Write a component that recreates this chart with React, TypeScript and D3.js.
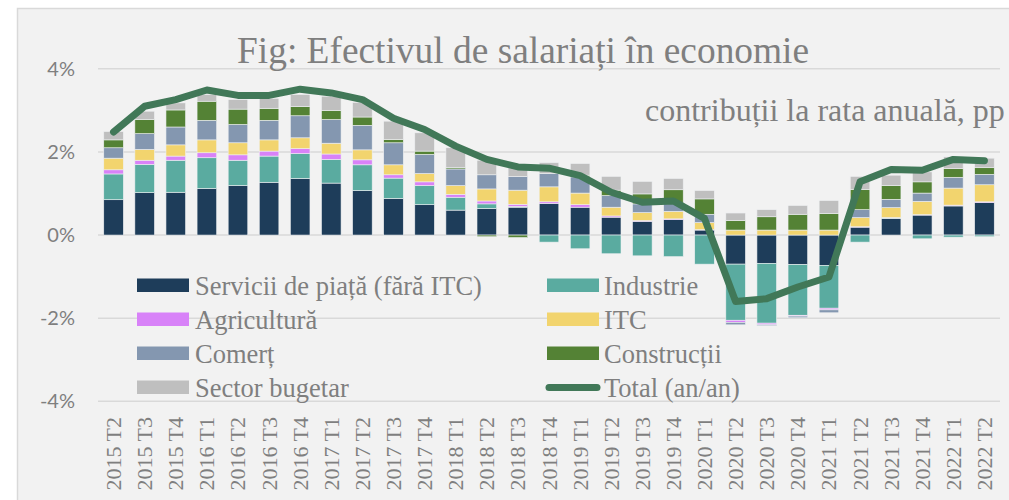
import React from "react";
import * as d3 from "d3";

const categories = [
  "2015 T2","2015 T3","2015 T4","2016 T1","2016 T2","2016 T3","2016 T4",
  "2017 T1","2017 T2","2017 T3","2017 T4","2018 T1","2018 T2","2018 T3","2018 T4",
  "2019 T1","2019 T2","2019 T3","2019 T4","2020 T1","2020 T2","2020 T3","2020 T4",
  "2021 T1","2021 T2","2021 T3","2021 T4","2022 T1","2022 T2",
];

const servicii = [0.85,1.02,1.03,1.12,1.19,1.27,1.36,1.25,1.07,0.88,0.73,0.60,0.64,0.67,0.76,0.67,0.43,0.33,0.37,0.12,-0.70,-0.68,-0.71,-0.73,0.19,0.40,0.48,0.70,0.78];
const industrie = [0.62,0.68,0.77,0.74,0.61,0.63,0.60,0.57,0.62,0.49,0.46,0.31,0.11,0.02,-0.17,-0.33,-0.45,-0.50,-0.52,-0.70,-1.35,-1.44,-1.22,-1.03,-0.17,0.01,-0.09,-0.05,-0.04];
const agricultura = [0.10,0.10,0.10,0.12,0.13,0.12,0.12,0.13,0.12,0.08,0.09,0.07,0.07,0.05,0.04,0.06,0.03,0.02,0.02,0.01,-0.05,-0.04,-0.02,-0.04,0.01,0.01,0.01,0.02,0.02];
const itc = [0.28,0.26,0.27,0.31,0.29,0.27,0.26,0.26,0.24,0.24,0.20,0.21,0.29,0.34,0.36,0.28,0.21,0.19,0.18,0.17,0.12,0.12,0.12,0.12,0.22,0.24,0.32,0.41,0.41];
const comert = [0.25,0.38,0.43,0.47,0.44,0.47,0.53,0.57,0.59,0.53,0.46,0.40,0.34,0.33,0.32,0.39,0.28,0.21,0.20,0.20,-0.06,-0.02,-0.04,-0.07,0.19,0.20,0.20,0.26,0.25];
const constructii = [0.19,0.34,0.41,0.46,0.37,0.29,0.22,0.22,0.20,0.08,0.08,0.03,-0.04,-0.06,0.0,0.04,0.13,0.24,0.32,0.37,0.23,0.32,0.38,0.40,0.49,0.33,0.27,0.21,0.16];
const sectorBugetar = [0.20,0.20,0.17,0.16,0.23,0.24,0.29,0.34,0.35,0.44,0.44,0.48,0.35,0.23,0.26,0.28,0.33,0.30,0.27,0.20,0.18,0.17,0.21,0.31,0.31,0.25,0.24,0.28,0.23];
const total = [2.48,3.10,3.26,3.49,3.36,3.36,3.51,3.42,3.26,2.81,2.54,2.14,1.82,1.64,1.61,1.43,1.03,0.79,0.82,0.40,-1.60,-1.53,-1.25,-1.01,1.28,1.58,1.56,1.82,1.79];

const yTicks = [-4, -2, 0, 2, 4];

const seriesNames = [
  "Servicii de piață (fără ITC)",
  "Industrie",
  "Agricultură",
  "ITC",
  "Comerț",
  "Construcții",
  "Sector bugetar",
];
const seriesValues = [servicii, industrie, agricultura, itc, comert, constructii, sectorBugetar];
const seriesColors = ["#1e3d5a", "#5aaba0", "#d882f8", "#f2d46e", "#8497b0", "#548235", "#bfbfbf"];
const totalName = "Total (an/an)";
const totalColor = "#417858";

const W = 1009;
const H = 500;

export default function App() {
  const x = d3.scaleBand<string>().domain(categories).range([98, 1000]).paddingInner(0.37).paddingOuter(0.185);
  const y = d3.scaleLinear().domain([-4, 4]).range([401.3, 68.8]);

  const rows = categories.map((c, i) => {
    const r: any = { cat: c };
    seriesNames.forEach((n, k) => (r[n] = seriesValues[k][i]));
    return r;
  });
  const stacked = d3.stack<any>().keys(seriesNames).offset(d3.stackOffsetDiverging)(rows);

  const bw = x.bandwidth();
  const line = d3
    .line<number>()
    .x((_, i) => (x(categories[i]) as number) + bw / 2)
    .y((d) => y(d));

  const gray = "#7f7f7f";
  const legendRows = [0, 1, 2, 3];
  const rowBase = (r: number) => 295 + r * 34;
  const col1 = { sw: 137, tx: 195 };
  const col2 = { sw: 547, tx: 604 };

  return (
    <svg width={W} height={H} style={{ position: "fixed", left: 0, top: 0, background: "#ffffff" }}>
      <rect x={17.5} y={8.5} width={1200} height={700} fill="#f2f2f2" stroke="#d9d9d9" strokeWidth={1.5} />
      {yTicks.map((t) => (
        <g key={t}>
          <line x1={98} x2={1000} y1={y(t)} y2={y(t)} stroke="#d9d9d9" strokeWidth={1.5} />
          <text x={75} y={y(t) + 7} textAnchor="end" fontFamily="Lato, 'Liberation Sans', sans-serif" fontSize={20} fill={gray}>
            {`${t}%`}
          </text>
        </g>
      ))}
      <text x={237} y={63} fontFamily="'Liberation Serif', serif" fontSize={37.4} fill={gray}>
        Fig: Efectivul de salariați în economie
      </text>
      <text x={645} y={121} fontFamily="'Liberation Serif', serif" fontSize={32} fill={gray}>
        contribuții la rata anuală, pp
      </text>
      {stacked.map((s, k) => (
        <g key={s.key} fill={seriesColors[k]}>
          {s.map((d, i) => {
            const y0 = y(d[0]);
            const y1 = y(d[1]);
            const h = Math.abs(y0 - y1);
            if (h < 0.01) return null;
            return (
              <rect
                key={i}
                x={x(categories[i]) as number}
                y={Math.min(y0, y1)}
                width={bw}
                height={h}
                stroke="#eef0f2"
                strokeWidth={0.6}
              />
            );
          })}
        </g>
      ))}
      <path d={line(total) as string} fill="none" stroke={totalColor} strokeWidth={7} strokeLinejoin="round" strokeLinecap="round" />
      {categories.map((c) => {
        const cx = (x(c) as number) + bw / 2 + 7.5;
        return (
          <text
            key={c}
            transform={`translate(${cx},417) rotate(-90)`}
            textAnchor="end"
            fontFamily="'Liberation Serif', serif"
            fontSize={22}
            fill={gray}
          >
            {c}
          </text>
        );
      })}
      {legendRows.map((r) => {
        const k = r * 2;
        const by = rowBase(r);
        return (
          <g key={r} fontFamily="'Liberation Serif', serif" fontSize={26.5} fill={gray}>
            <rect x={col1.sw} y={by - 16.5} width={52} height={13.5} fill={seriesColors[k]} />
            <text x={col1.tx} y={by}>{seriesNames[k]}</text>
            {k + 1 < seriesNames.length ? (
              <>
                <rect x={col2.sw} y={by - 16.5} width={52} height={13.5} fill={seriesColors[k + 1]} />
                <text x={col2.tx} y={by}>{seriesNames[k + 1]}</text>
              </>
            ) : (
              <>
                <line x1={col2.sw + 2} x2={col2.sw + 50} y1={by - 9.5} y2={by - 9.5} stroke={totalColor} strokeWidth={7} strokeLinecap="round" />
                <text x={col2.tx} y={by}>{totalName}</text>
              </>
            )}
          </g>
        );
      })}
    </svg>
  );
}
